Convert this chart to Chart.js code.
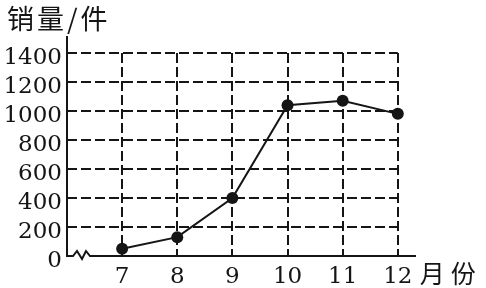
<!DOCTYPE html>
<html>
<head>
<meta charset="utf-8">
<script src="https://cdn.jsdelivr.net/npm/chart.js@4/dist/chart.umd.min.js"></script>
<style>
  html, body { margin: 0; padding: 0; background: #fff; }
  #wrap { width: 486px; height: 288px; }
</style>
</head>
<body>
<div id="wrap"><canvas id="c"></canvas></div>
<script>
const months = [7, 8, 9, 10, 11, 12];
const sales = [50, 130, 400, 1040, 1070, 980];
const yTicks = [0, 200, 400, 600, 800, 1000, 1200, 1400];
const yTitle = '销量/件';
const xTitle = '月份';

const ink = '#151515';
const serif = '"DejaVu Serif", serif';
const cjk = '"Noto Sans CJK SC", sans-serif';

// dashed paper grid, broken x axis and the two axis captions
const paperGrid = {
  id: 'paperGrid',
  beforeDatasetsDraw(chart) {
    const { ctx, scales: { x, y } } = chart;
    const left = x.left;
    const right = x.getPixelForValue(months[months.length - 1]);
    const bottom = y.getPixelForValue(0);
    const top = y.getPixelForValue(yTicks[yTicks.length - 1]);
    ctx.save();
    ctx.strokeStyle = ink;
    ctx.lineWidth = 2;
    ctx.setLineDash([10, 4]);
    yTicks.slice(1).forEach(v => {
      const py = Math.round(y.getPixelForValue(v));
      ctx.beginPath();
      ctx.moveTo(left, py);
      ctx.lineTo(right, py);
      ctx.stroke();
    });
    months.forEach(m => {
      const px = Math.round(x.getPixelForValue(m));
      ctx.beginPath();
      ctx.moveTo(px, top);
      ctx.lineTo(px, bottom);
      ctx.stroke();
    });
    ctx.restore();
  },
  afterDraw(chart) {
    const { ctx, scales: { x, y } } = chart;
    const py = Math.round(y.getPixelForValue(0));
    const l = x.left;
    ctx.save();
    ctx.strokeStyle = ink;
    ctx.lineWidth = 2;
    ctx.setLineDash([]);
    ctx.beginPath();
    ctx.moveTo(l - 1, py);
    ctx.lineTo(l + 6, py);
    ctx.lineTo(l + 10, py - 5);
    ctx.lineTo(l + 15, py + 3);
    ctx.lineTo(l + 19, py - 5);
    ctx.lineTo(l + 23, py);
    ctx.lineTo(x.right, py);
    ctx.stroke();

    ctx.fillStyle = ink;
    ctx.textBaseline = 'middle';
    ctx.font = '27px ' + cjk;
    ctx.letterSpacing = '3px';
    ctx.fillText(yTitle, 7, 19);
    ctx.font = '25px ' + cjk;
    ctx.letterSpacing = '6px';
    ctx.fillText(xTitle, x.getPixelForValue(months[months.length - 1]) + 22, py + 17);
    ctx.restore();
  }
};

new Chart(document.getElementById('c'), {
  type: 'line',
  data: {
    datasets: [{
      data: months.map((m, i) => ({ x: m, y: sales[i] })),
      borderColor: ink,
      borderWidth: 2,
      backgroundColor: ink,
      pointRadius: 6,
      pointBackgroundColor: ink,
      pointBorderWidth: 0,
      tension: 0
    }]
  },
  options: {
    responsive: true,
    maintainAspectRatio: false,
    animation: false,
    layout: { padding: { top: 37, right: 70, left: 0, bottom: 0 } },
    plugins: { legend: { display: false }, tooltip: { enabled: false } },
    scales: {
      x: {
        type: 'linear',
        min: 6,
        max: 12.33,
        afterBuildTicks: s => { s.ticks = months.map(v => ({ value: v })); },
        afterFit: s => { s.height = 32; },
        grid: { display: false, drawTicks: false },
        border: { display: false },
        ticks: { color: ink, font: { family: serif, size: 23 }, padding: 7, maxRotation: 0, callback: v => String(v) }
      },
      y: {
        min: 0,
        max: 1510,
        afterBuildTicks: s => { s.ticks = yTicks.map(v => ({ value: v })); },
        afterFit: s => { s.width = 67; },
        grid: { display: false, drawTicks: false },
        border: { display: true, color: ink, width: 2 },
        ticks: { color: ink, font: { family: serif, size: 23 }, padding: 5, labelOffset: 5, callback: v => String(v) }
      }
    }
  },
  plugins: [paperGrid]
});
</script>
</body>
</html>
